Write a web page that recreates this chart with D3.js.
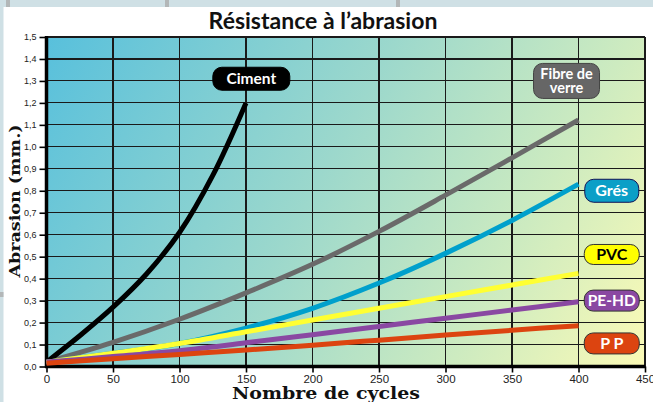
<!DOCTYPE html>
<html><head><meta charset="utf-8">
<script src="https://cdn.jsdelivr.net/npm/d3@7"></script>
<style>body{margin:0;background:#fff;overflow:hidden}svg{display:block}</style>
</head><body>
<svg id="c" width="653" height="402"></svg>
<script>
// ---- data ----
const cycles = [0, 50, 100, 150, 200, 250, 300, 350, 400];
const cimentCycles = [0, 25, 50, 75, 100, 125, 150];
const ciment = [0.02, 0.14, 0.27, 0.42, 0.61, 0.87, 1.20];
const fibreVerre = [0.02, 0.11, 0.215, 0.335, 0.465, 0.615, 0.78, 0.95, 1.122];
const gres = [0.02, 0.06, 0.105, 0.175, 0.265, 0.38, 0.515, 0.665, 0.83];
const pvc = [0.02, 0.06, 0.105, 0.158, 0.212, 0.265, 0.318, 0.371, 0.424];
const peHd = [0.02, 0.045, 0.072, 0.108, 0.145, 0.182, 0.22, 0.257, 0.295];
const pp = [0.015, 0.035, 0.055, 0.075, 0.097, 0.12, 0.143, 0.165, 0.186];
const xTicks = [0, 50, 100, 150, 200, 250, 300, 350, 400, 450];
const yTicks = [0, 0.1, 0.2, 0.3, 0.4, 0.5, 0.6, 0.7, 0.8, 0.9, 1.0, 1.1, 1.2, 1.3, 1.4, 1.5];
const seriesNames = ["Fibre de verre", "Ciment", "Grés", "PVC", "PE-HD", "PP"];

const svg = d3.select("#c");
const W = 653, H = 402;
const m = {l: 46.5, r: 8, t: 37, b: 35.5};
const x = d3.scaleLinear().domain([0, 450]).range([m.l, W - m.r]);
const y = d3.scaleLinear().domain([0, 1.5]).range([H - m.b, m.t]);

// page decoration
svg.append("rect").attr("x", 0).attr("y", 0).attr("width", W).attr("height", 7).attr("fill", "#cfe0e5");
svg.append("rect").attr("x", 0).attr("y", 0).attr("width", 3.5).attr("height", H).attr("fill", "#cfe0e5");
[[6, 4], [165, 4], [396, 4]].forEach(([px, w]) =>
  svg.append("rect").attr("x", px).attr("y", 0).attr("width", w).attr("height", 7).attr("fill", "#b3b7b8"));
svg.append("rect").attr("x", 0).attr("y", 292).attr("width", 3.5).attr("height", 5).attr("fill", "#b3b7b8");

// gradient background
const defs = svg.append("defs");
const g = defs.append("linearGradient").attr("id", "bg").attr("gradientUnits", "userSpaceOnUse")
  .attr("x1", x(0)).attr("y1", y(1.5)).attr("x2", x(450)).attr("y2", y(0));
[[0, "#58c0dc"], [0.45, "#9cd8cc"], [0.75, "#cdebc0"], [1, "#fbfab6"]].forEach(([o, c]) =>
  g.append("stop").attr("offset", o).attr("stop-color", c));
svg.append("rect").attr("x", x(0)).attr("y", y(1.5)).attr("width", x(450) - x(0)).attr("height", y(0) - y(1.5))
  .attr("fill", "url(#bg)");

// grid
const grid = svg.append("g").attr("stroke", "#1a1a1a").attr("stroke-width", 1.1).attr("shape-rendering", "crispEdges");
yTicks.forEach(v => grid.append("line").attr("x1", x(0)).attr("x2", x(450)).attr("y1", y(v)).attr("y2", y(v)));
xTicks.forEach(v => grid.append("line").attr("x1", x(v)).attr("x2", x(v)).attr("y1", y(0)).attr("y2", y(1.5)));

// axes
const fmt = d => d3.format(".1f")(d).replace(".", ",");
const ya = svg.append("g").attr("transform", `translate(${x(0)},0)`)
  .call(d3.axisLeft(y).tickValues(yTicks).tickFormat(fmt).tickSize(7).tickPadding(3));
ya.select(".domain").remove();
ya.selectAll("line").attr("stroke", "#000").attr("stroke-width", 1.6);
ya.selectAll("text").attr("font-family", "Liberation Sans, Arial, sans-serif").attr("font-size", 9).attr("fill", "#222");
const xa = svg.append("g").attr("transform", `translate(0,${y(0)})`)
  .call(d3.axisBottom(x).tickValues(xTicks).tickFormat(d3.format("d")).tickSize(6).tickPadding(2));
xa.select(".domain").remove();
xa.selectAll("line").attr("stroke", "#000").attr("stroke-width", 1.6);
xa.selectAll("text").attr("font-family", "Liberation Sans, Arial, sans-serif").attr("font-size", 11.5).attr("fill", "#222");
svg.append("line").attr("x1", x(0)).attr("x2", x(0)).attr("y1", y(1.5) - 1).attr("y2", y(0) + 1.5)
  .attr("stroke", "#000").attr("stroke-width", 3.5);
svg.append("line").attr("x1", x(0) - 1.5).attr("x2", x(450)).attr("y1", y(0)).attr("y2", y(0))
  .attr("stroke", "#000").attr("stroke-width", 3.5);

// lines
const line = d3.line().x(d => x(d[0])).y(d => y(d[1])).curve(d3.curveCatmullRom.alpha(0.5));
const zip = (xs, ys) => xs.map((v, i) => [v, ys[i]]);
const series = [
  {name: seriesNames[0], xs: cycles, ys: fibreVerre, color: "#6a6a6a"},
  {name: seriesNames[1], xs: cimentCycles, ys: ciment, color: "#000000"},
  {name: seriesNames[2], xs: cycles, ys: gres, color: "#00a0cc"},
  {name: seriesNames[3], xs: cycles, ys: pvc, color: "#ffff33"},
  {name: seriesNames[4], xs: cycles, ys: peHd, color: "#8a48a2"},
  {name: seriesNames[5], xs: cycles, ys: pp, color: "#dc4410"},
];
series.forEach(s => svg.append("path").attr("d", line(zip(s.xs, s.ys))).attr("fill", "none")
  .attr("stroke", s.color).attr("stroke-width", 5));

// label boxes
const labels = [
  {lines: ["Ciment"], cx: 154, cy: 1.31, w: 77, h: 23, fill: "#000", stroke: "#000", tc: "#fff", fs: 15.5},
  {lines: ["Fibre de", "verre"], cx: 391, cy: 1.30, w: 66, h: 35, fill: "#666", stroke: "#444", tc: "#fff", fs: 14.5},
  {lines: ["Grés"], cx: 425, cy: 0.80, w: 54, h: 23, fill: "#0b9fc7", stroke: "#115", tc: "#fff", fs: 16},
  {lines: ["PVC"], cx: 425, cy: 0.51, w: 55, h: 20, fill: "#ffff00", stroke: "#333", tc: "#000", fs: 16},
  {lines: ["PE-HD"], cx: 425, cy: 0.30, w: 55, h: 21, fill: "#8a48a2", stroke: "#333", tc: "#fff", fs: 15.5},
  {lines: ["P P"], cx: 425, cy: 0.105, w: 55, h: 21, fill: "#dc4410", stroke: "#333", tc: "#fff", fs: 16},
];
labels.forEach(l => {
  const cx = x(l.cx), cy = y(l.cy);
  svg.append("rect").attr("x", cx - l.w / 2).attr("y", cy - l.h / 2).attr("width", l.w).attr("height", l.h)
    .attr("rx", 9).attr("fill", l.fill).attr("stroke", l.stroke).attr("stroke-width", 1);
  const t = svg.append("text").attr("text-anchor", "middle").attr("font-family", "Lato, 'Open Sans', sans-serif")
    .attr("font-weight", "bold").attr("font-size", l.fs).attr("fill", l.tc);
  const n = l.lines.length, lh = 14.5;
  l.lines.forEach((s, i) => t.append("tspan").attr("x", cx).attr("y", cy + (i - (n - 1) / 2) * lh + l.fs * 0.35).text(s));
});

// titles
svg.append("text").attr("x", 323).attr("y", 29).attr("text-anchor", "middle")
  .attr("font-family", "Lato, 'Open Sans', sans-serif").attr("font-weight", "bold").attr("font-size", 23)
  .attr("fill", "#111").text("Résistance à l’abrasion");
svg.append("text").attr("x", 326).attr("y", 399).attr("text-anchor", "middle")
  .attr("font-family", "'DejaVu Serif', serif").attr("font-weight", "bold").attr("font-size", 16.5)
  .attr("textLength", 188).attr("lengthAdjust", "spacingAndGlyphs")
  .attr("fill", "#111").text("Nombre de cycles");
svg.append("text").attr("transform", "translate(20,201) rotate(-90)").attr("text-anchor", "middle")
  .attr("font-family", "'DejaVu Serif', serif").attr("font-weight", "bold").attr("font-size", 15.5)
  .attr("textLength", 153).attr("lengthAdjust", "spacingAndGlyphs")
  .attr("fill", "#111").text("Abrasion (mm.)");
</script>
</body></html>
